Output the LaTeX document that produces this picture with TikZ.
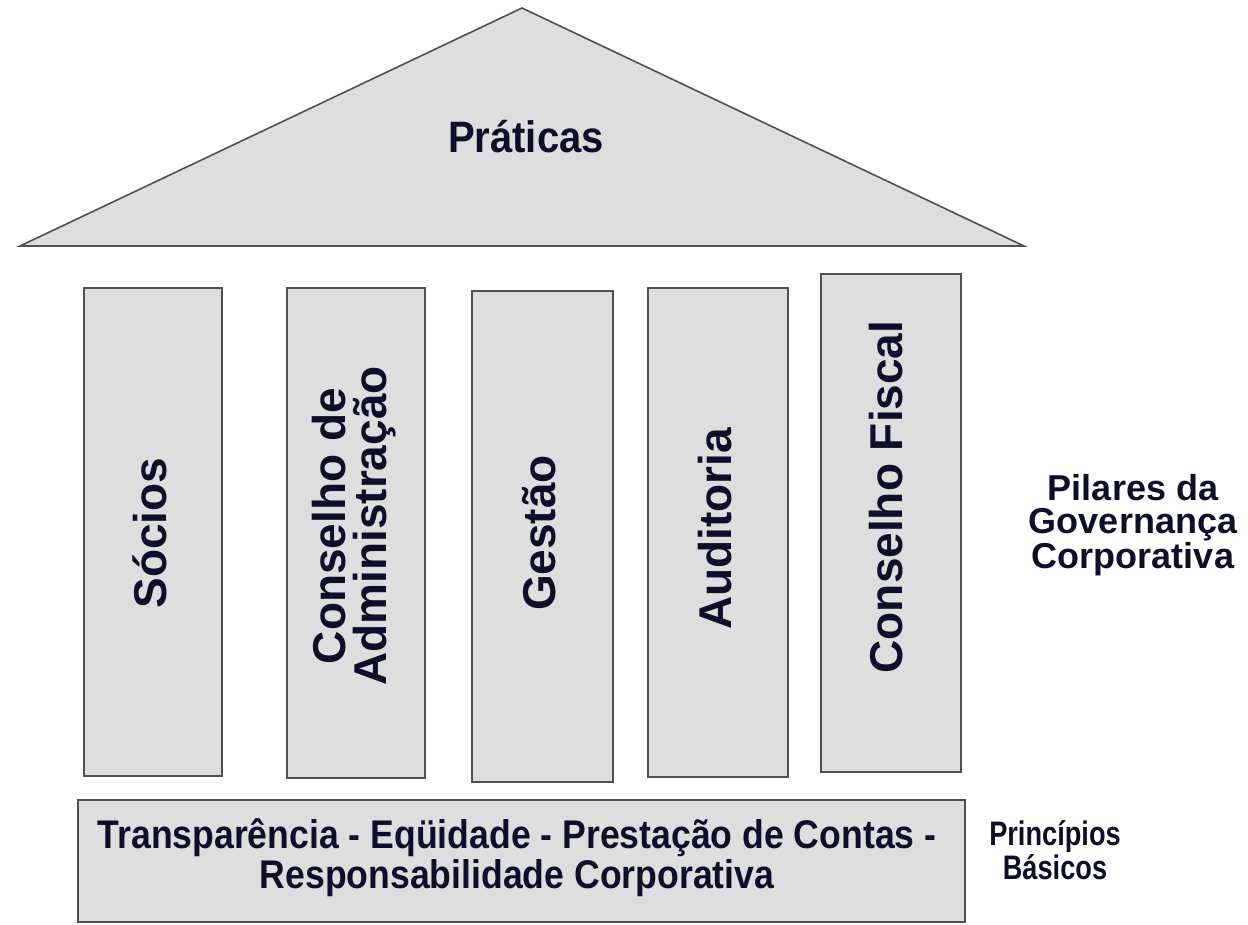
\documentclass[tikz,border=0pt]{standalone}
\usepackage{fontspec}
\setmainfont{Liberation Sans}
\begin{document}
\begin{tikzpicture}[x=1pt,y=-1pt,
  shapefill/.style={fill=boxgray,draw=edgegray,line width=1.6pt},
  pillar/.style={shapefill,rectangle,inner sep=0pt,minimum width=#1},
  pillar/.default=138pt,
  ptext/.style={text=ink,font=\bfseries\fontsize{46}{41}\selectfont,rotate=90,align=center,inner sep=0pt},
  ctext/.style={text=ink,font=\bfseries\fontsize{#1}{#1}\selectfont,align=center,inner sep=0pt,transform shape}
]
\definecolor{boxgray}{RGB}{222,222,222}
\definecolor{edgegray}{RGB}{80,80,80}
\definecolor{ink}{RGB}{14,14,42}
\useasboundingbox (0,0) rectangle (1248,924);

% roof
\draw[shapefill,line join=miter] (20,246) -- (522,8) -- (1024,246) -- cycle;
\node[ctext=44,xscale=0.91] (prat) at (526,137) {Práticas};

% pillars
\node[pillar,minimum height=488pt] (p1) at (153,532) {};
\node[pillar,minimum height=490pt] (p2) at (356,533) {};
\node[pillar=141pt,minimum height=491pt] (p3) at (542.5,536.5) {};
\node[pillar=140pt,minimum height=489pt] (p4) at (718,532.5) {};
\node[pillar=140pt,minimum height=498pt] (p5) at (891,523) {};

\node[ptext] (t1) at (150,533) {Sócios};
\node[ptext] (t2) at (354,526) {Conselho de\\Administração};
\node[ptext] (t3) at (539,533) {Gestão};
\node[ptext] (t4) at (715,529) {Auditoria};
\node[ptext] (t5) at (886,497) {Conselho Fiscal};

% base
\node[shapefill,rectangle,inner sep=0pt,minimum width=887pt,minimum height=122pt] (base) at (521.5,861) {};
\node[ctext=40,xscale=0.89] (btext) at (517,858) {Transparência - Eqüidade - Prestação de Contas -\\Responsabilidade Corporativa};

% side labels
\node[text=ink,font=\bfseries\fontsize{36}{33}\selectfont,align=center,inner sep=0pt] (pil) at (1133,525) {Pilares da\\Governança\\Corporativa};
\node[ctext=34,xscale=0.8] (pri) at (1055,850) {Princípios\\Básicos};
\end{tikzpicture}
\end{document}
